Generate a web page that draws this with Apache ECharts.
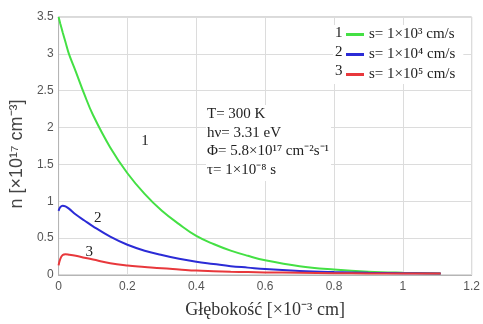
<!DOCTYPE html>
<html>
<head>
<meta charset="utf-8">
<script src="https://cdn.jsdelivr.net/npm/echarts@6/dist/echarts.min.js"></script>
<style>
  html, body { margin: 0; padding: 0; background: #fff; }
  #chart { width: 483px; height: 324px; }
</style>
</head>
<body>
<div id="chart"></div>
<script>
// depth [x10^-3 cm]
var depth = [0, 0.005, 0.012, 0.02, 0.03, 0.05, 0.075, 0.1, 0.15, 0.2, 0.25, 0.3, 0.35, 0.4, 0.45, 0.5, 0.55, 0.6, 0.7, 0.8, 0.9, 1.0, 1.11]
// n [x10^17 cm^-3]
var s1e3 = [3.5, 3.41, 3.29, 3.16, 3.0, 2.76, 2.45, 2.17, 1.73, 1.38, 1.1, 0.87, 0.69, 0.53, 0.42, 0.33, 0.26, 0.2, 0.12, 0.075, 0.045, 0.03, 0.02]
var s1e4 = [0.87, 0.92, 0.94, 0.93, 0.9, 0.82, 0.74, 0.66, 0.52, 0.41, 0.33, 0.27, 0.22, 0.18, 0.15, 0.12, 0.1, 0.08, 0.055, 0.04, 0.03, 0.025, 0.02]
var s1e5 = [0.13, 0.22, 0.27, 0.28, 0.275, 0.26, 0.235, 0.21, 0.16, 0.13, 0.11, 0.09, 0.075, 0.06, 0.052, 0.045, 0.04, 0.035, 0.03, 0.025, 0.022, 0.02, 0.02]

var seriesNames = ['s= 1×10³ cm/s', 's= 1×10⁴ cm/s', 's= 1×10⁵ cm/s']
var seriesColors = ['#44e044', '#2b2bd6', '#e8383c']
// where the curve numbers sit (data coords)
var curveLabels = [[0.251, 1.82], [0.114, 0.77], [0.089, 0.31]]

var params = ['T= 300 K', 'hν= 3.31 eV', 'Φ= 5.8×10¹⁷ cm⁻²s⁻¹', 'τ= 1×10⁻⁸ s']

var serif = '"Liberation Serif", "Times New Roman", serif'
var sans = '"Liberation Sans", Arial, sans-serif'

function pairs(ys) {
  return depth.map(function (x, i) { return [x, ys[i]] })
}

var allData = [s1e3, s1e4, s1e5]
var series = allData.map(function (ys, i) {
  return {
    name: seriesNames[i],
    type: 'line',
    data: pairs(ys),
    smooth: 0.4,
    showSymbol: false,
    lineStyle: { width: 2, color: seriesColors[i] },
    itemStyle: { color: seriesColors[i] },
    markPoint: {
      symbol: 'circle',
      symbolSize: 0,
      label: {
        show: true,
        formatter: String(i + 1),
        fontFamily: serif,
        fontSize: 15,
        color: '#222'
      },
      data: [{ coord: curveLabels[i] }]
    }
  }
})

var chart = echarts.init(document.getElementById('chart'))
var option = {
  animation: false,
  grid: {
    left: 53,
    right: 9,
    top: 17,
    bottom: 44,
    show: true,
    borderColor: '#b5b5b5',
    borderWidth: 1
  },
  legend: {
    orient: 'vertical',
    left: 333,
    top: 25,
    itemWidth: 18,
    itemHeight: 3,
    itemGap: 5,
    icon: 'rect',
    padding: [2, 8, 2, 13],
    backgroundColor: '#fff',
    textStyle: { fontFamily: serif, fontSize: 15, color: '#222' },
    data: seriesNames
  },
  xAxis: {
    type: 'value',
    min: 0,
    max: 1.2,
    interval: 0.2,
    name: 'Głębokość [×10⁻³ cm]',
    nameLocation: 'middle',
    nameGap: 26,
    nameTextStyle: { fontFamily: serif, fontSize: 18, color: '#333' },
    axisLine: { show: true, lineStyle: { color: '#b5b5b5' } },
    axisTick: { show: false },
    axisLabel: { fontFamily: sans, fontSize: 12, color: '#555', margin: 6 },
    splitLine: { show: true, lineStyle: { color: '#dcdcdc', width: 1 } }
  },
  yAxis: {
    type: 'value',
    min: 0,
    max: 3.5,
    interval: 0.5,
    name: 'n [×10¹⁷ cm⁻³]',
    nameLocation: 'middle',
    nameGap: 24,
    nameTextStyle: { fontFamily: sans, fontSize: 18, color: '#444', padding: [0, 16, 0, 0] },
    axisLine: { show: true, lineStyle: { color: '#b5b5b5' } },
    axisTick: { show: false },
    axisLabel: { fontFamily: sans, fontSize: 12, color: '#555', margin: 5 },
    splitLine: { show: true, lineStyle: { color: '#dcdcdc', width: 1 } }
  },
  graphic: [1, 2, 3].map(function (n, i) {
    return {
      type: 'text',
      left: 335,
      top: 26 + i * 19,
      z: 100,
      style: { text: String(n), font: '15px ' + serif, fill: '#222' }
    }
  }).concat([
    {
      type: 'text',
      left: 206,
      top: 105,
      z: 100,
      style: {
        text: params.join('\n'),
        font: '15px ' + serif,
        lineHeight: 18.5,
        fill: '#222',
        backgroundColor: '#fff',
        padding: [0, 2, 2, 1]
      }
    }
  ]),
  series: series
}
chart.setOption(option)
</script>
</body>
</html>
